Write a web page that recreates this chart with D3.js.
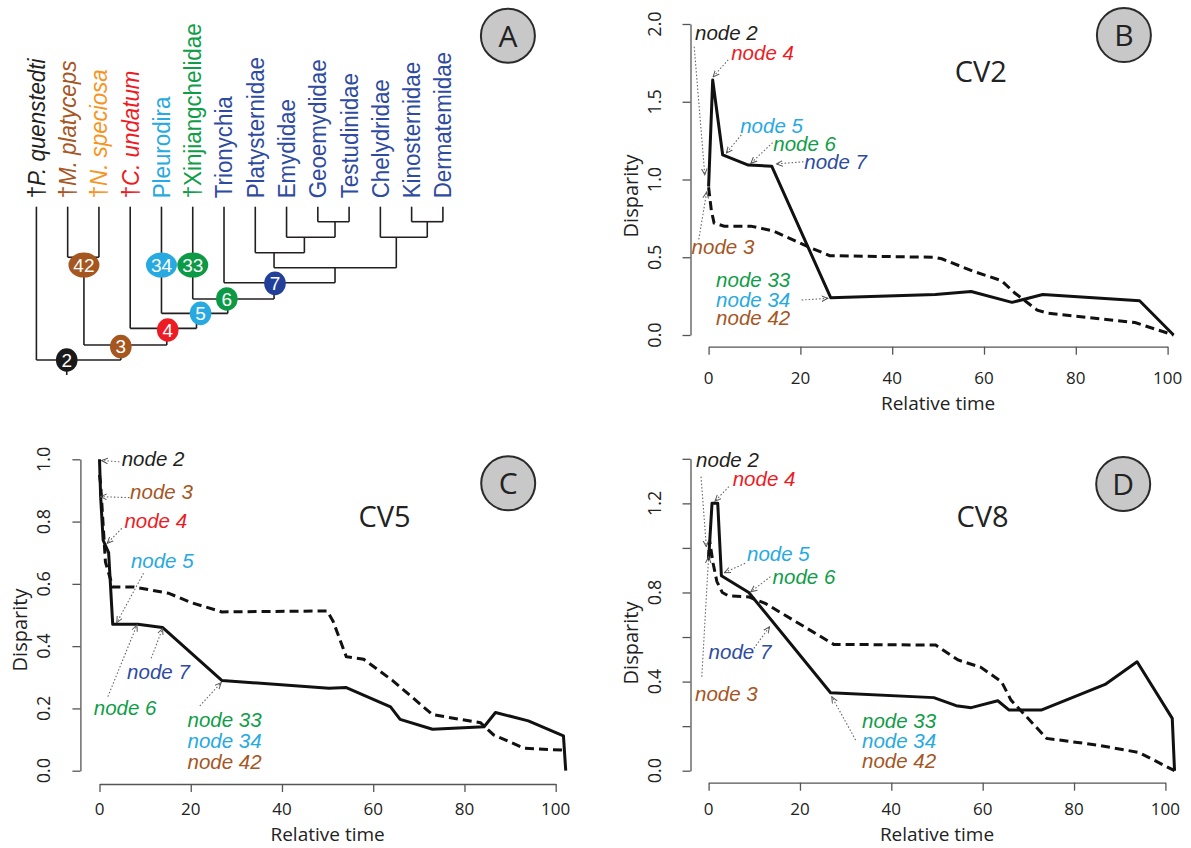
<!DOCTYPE html>
<html><head><meta charset="utf-8">
<script src="https://cdn.jsdelivr.net/npm/d3@7"></script>
<style>body{margin:0;background:#fff} svg{display:block}</style>
</head><body><svg id="c" width="1191" height="848"></svg>
<script>
// ---------- colours ----------
const BLACK="#231f20", BROWN="#a6561f", ORANGE="#f7941d", RED="#ed1c24",
      LBLUE="#27a9e1", GREEN="#0f9d48", DBLUE="#2e4b9f", DBLUE2="#22409a";

// ---------- panel A : tree data ----------
const tipNames  = ["P. quenstedti","M. platyceps","N. speciosa","C. undatum","Pleurodira","Xinjiangchelidae","Trionychia","Platysternidae","Emydidae","Geoemydidae","Testudinidae","Chelydridae","Kinosternidae","Dermatemidae"];
const tipExtinct = [1,1,1,1,0,1,0,0,0,0,0,0,0,0];
const tipItalic  = [1,1,1,1,0,0,0,0,0,0,0,0,0,0];
const tipColors  = [BLACK,BROWN,ORANGE,RED,LBLUE,GREEN,DBLUE,DBLUE,DBLUE,DBLUE,DBLUE,DBLUE,DBLUE,DBLUE];
const tipDepth = 11.22;
// internal nodes: children, position (tip units), depth (levels from root base)
const treeNodes = [
  {id:"n2",   kids:["t0","n3"],      pos:0.97,  depth:1.0},
  {id:"n3",   kids:["n42","n4"],     pos:2.70,  depth:2.0},
  {id:"n42",  kids:["t1","t2"],      pos:1.52,  depth:7.85},
  {id:"n4",   kids:["t3","n5"],      pos:4.17,  depth:3.11},
  {id:"n5",   kids:["t4","n6"],      pos:5.12,  depth:4.11},
  {id:"n6",   kids:["t5","n7"],      pos:6.12,  depth:5.07},
  {id:"n7",   kids:["t6","nBig"],    pos:7.60,  depth:6.15},
  {id:"nBig", kids:["nPla","nChe"],  pos:9.55,  depth:7.15},
  {id:"nPla", kids:["t7","nEmy"],    pos:7.60,  depth:8.15},
  {id:"nEmy", kids:["t8","nGeo"],    pos:8.57,  depth:9.18},
  {id:"nGeo", kids:["t9","t10"],     pos:9.55,  depth:10.22},
  {id:"nChe", kids:["t11","nKin"],   pos:11.51, depth:9.18},
  {id:"nKin", kids:["t12","t13"],    pos:12.5,  depth:10.22}
];
const badgeLabels = ["2","3","4","5","6","7","42","34","33"];
const badgePos    = [0.97,2.70,4.20,5.25,6.09,7.63,1.52,4.0,5.0];
const badgeDepth  = [1.0,1.89,3.0,4.11,5.07,6.11,7.33,7.33,7.33];
const badgeColors = ["#1a1a1a",BROWN,RED,LBLUE,"#0d9a46",DBLUE2,BROWN,LBLUE,"#0d9a46"];

// ---------- panel B : CV2 ----------
const bTime  = [0,0.89,3.07,8.65,13.75,26.6,49.4,57.2,66.1,72.8,93.9,101.3];
const bSolid = [0.954,1.64,1.158,1.093,1.086,0.24,0.26,0.28,0.21,0.26,0.22,0.0];
const bDashTime = [0,0.6,1.2,3.4,9.2,14,21.5,26.4,49.2,50.8,57.6,63.8,66.7,71.6,74,92.9,101.3];
const bDash     = [0.95,0.80,0.72,0.70,0.70,0.67,0.57,0.51,0.50,0.49,0.41,0.35,0.27,0.16,0.14,0.08,0.0];
const bYTicks = [0,0.5,1,1.5,2];
const bNotes = [ // text, colour, label x/y, arrow from x/y, arrow to x/y (data units)
  ["node 2",BLACK,-2.96,1.90,-3.14,1.854,-0.83,1.03],
  ["node 4",RED,4.92,1.77,4.27,1.77,0.98,1.66],
  ["node 5",LBLUE,6.88,1.30,7.12,1.286,3.86,1.17],
  ["node 6",GREEN,14.1,1.185,13.94,1.237,9.19,1.104],
  ["node 7",DBLUE,20.85,1.07,20.68,1.114,14.77,1.10],
  ["node 3",BROWN,-3.7,0.52,-2.14,0.615,-0.41,0.92],
  ["node 33",GREEN,1.63,0.31,null,null,null,null],
  ["node 34",LBLUE,1.63,0.18,20.28,0.225,26.0,0.236],
  ["node 42",BROWN,1.63,0.064,null,null,null,null]
];

// ---------- panel C : CV5 ----------
const cTime  = [0,0.25,0.8,2.0,2.9,8.4,13.8,26.8,50.3,54.1,63.8,65.9,73,84.3,86.8,94,101.7,102.2];
const cSolid = [1.0,0.88,0.74,0.70,0.47,0.47,0.46,0.29,0.265,0.267,0.205,0.165,0.133,0.141,0.187,0.16,0.112,0.0];
const cDashTime = [0,0.25,1.3,2.9,7.6,15.1,20.1,26.8,49.9,51.2,54.1,57.9,64.2,73,83.5,86.4,93.1,101.5];
const cDash     = [0.95,0.92,0.67,0.59,0.59,0.57,0.54,0.51,0.513,0.48,0.366,0.358,0.29,0.18,0.154,0.115,0.072,0.066];
const cYTicks = [0,0.2,0.4,0.6,0.8,1.0];
const cNotes = [
  ["node 2",BLACK,4.87,0.978,4.36,0.992,0.42,0.996],
  ["node 3",BROWN,6.71,0.872,6.55,0.877,0.18,0.88],
  ["node 4",RED,5.46,0.778,4.87,0.778,1.69,0.73],
  ["node 5",LBLUE,6.88,0.65,9.65,0.634,3.77,0.475],
  ["node 7",DBLUE,6.05,0.293,11.33,0.361,13.83,0.457],
  ["node 6",GREEN,-1.25,0.179,1.84,0.238,8.22,0.468],
  ["node 33",GREEN,19.29,0.141,21.99,0.208,26.68,0.283],
  ["node 34",LBLUE,19.29,0.074,null,null,null,null],
  ["node 42",BROWN,19.29,0.0045,null,null,null,null]
];

// ---------- panel D : CV8 ----------
const dTime  = [0,0.75,2.0,2.8,8.8,26.7,49.3,54.2,57.5,63.3,65.8,72.8,86.8,93.8,101.5,102];
const dSolid = [0.946,1.20,1.20,0.875,0.80,0.35,0.328,0.292,0.283,0.314,0.272,0.272,0.387,0.489,0.235,0.0];
const dDashTime = [0,0.2,1.0,1.8,3.0,4.3,8.8,12.5,27.4,49.7,54.6,59.6,64.1,66.2,74,85.1,94.2,102];
const dDash     = [0.95,1.035,0.93,0.85,0.80,0.785,0.78,0.75,0.567,0.564,0.497,0.464,0.40,0.317,0.145,0.115,0.082,0.0];
const dYTicks = [0,0.2,0.4,0.6,0.8,1.0,1.2,1.4];
const dNotes = [
  ["node 2",BLACK,-2.74,1.362,-1.66,1.32,-0.5,1.005],
  ["node 4",RED,5.28,1.278,4.44,1.275,1.4,1.21],
  ["node 5",LBLUE,8.41,0.943,7.99,0.931,3.46,0.889],
  ["node 6",GREEN,14.01,0.837,13.53,0.871,9.24,0.803],
  ["node 7",DBLUE,0,0.50,9.9,0.549,13.35,0.646],
  ["node 3",BROWN,-2.98,0.314,-1.49,0.422,0,0.96],
  ["node 33",GREEN,33.58,0.19,32.18,0.138,26.97,0.332],
  ["node 34",LBLUE,33.58,0.10,null,null,null,null],
  ["node 42",BROWN,33.58,0.011,null,null,null,null]
];
const xTicks = [0,20,40,60,80,100];

// =====================================================
const svg = d3.select("#c");
const defs = svg.append("defs");
defs.append("marker").attr("id","ah").attr("viewBox","0 0 10 10")
  .attr("refX",9).attr("refY",5).attr("markerWidth",7).attr("markerHeight",7)
  .attr("markerUnits","userSpaceOnUse").attr("orient","auto")
  .append("path").attr("d","M0,1 L9,5 L0,9").attr("fill","none")
  .attr("stroke","#555").attr("stroke-width",1.4);

function panelBadge(cx, cy, r, letter){
  svg.append("circle").attr("cx",cx).attr("cy",cy).attr("r",r)
    .attr("fill","#c8c8c8").attr("stroke","#2b2b2b").attr("stroke-width",2);
  svg.append("text").attr("x",cx).attr("y",cy).attr("dy","0.36em")
    .attr("text-anchor","middle").attr("font-family","Open Sans")
    .attr("font-size",30).attr("fill","#222").text(letter);
}

// ---------- Panel A ----------
(function(){
  const xT = d3.scaleLinear().domain([0,13]).range([36.4,442.9]);
  const yT = d3.scaleLinear().domain([0,tipDepth]).range([375,206.7]);
  const byId = {};
  treeNodes.forEach(n=>byId[n.id]=n);
  const loc = ref => ref[0]==="t" ? {pos:+ref.slice(1), depth:tipDepth} : byId[ref];
  const g = svg.append("g").attr("stroke","#231f20").attr("stroke-width",1.6).attr("fill","none");
  treeNodes.forEach(n=>{
    const ks = n.kids.map(loc);
    g.append("line").attr("x1",xT(d3.min(ks,k=>k.pos))).attr("x2",xT(d3.max(ks,k=>k.pos)))
      .attr("y1",yT(n.depth)).attr("y2",yT(n.depth));
    ks.forEach(k=>{
      g.append("line").attr("x1",xT(k.pos)).attr("x2",xT(k.pos))
        .attr("y1",yT(n.depth)).attr("y2",yT(k.depth));
    });
  });
  const root = treeNodes[0];
  g.append("line").attr("x1",xT(root.pos)).attr("x2",xT(root.pos)).attr("y1",yT(root.depth)).attr("y2",yT(0));

  // tip labels
  tipNames.forEach((nm,i)=>{
    const t = svg.append("text")
      .attr("transform",`translate(${xT(i)},${yT(11.78)}) rotate(-90) scale(0.93,1)`)
      .attr("dy","0.35em").attr("font-family","Liberation Sans").attr("font-size",24)
      .attr("fill",tipColors[i]);
    if(tipExtinct[i]) t.append("tspan").text("\u2020");
    t.append("tspan").attr("font-style",tipItalic[i]?"italic":"normal").text(nm);
  });

  // node badges
  badgeLabels.forEach((lb,i)=>{
    const cx = xT(badgePos[i]), cy = yT(badgeDepth[i]);
    const two = lb.length>1;
    svg.append("ellipse").attr("cx",cx).attr("cy",cy)
      .attr("rx",two?15.5:10.8).attr("ry",two?12.5:11.8).attr("fill",badgeColors[i]);
    svg.append("text").attr("x",cx).attr("y",cy).attr("dy","0.36em")
      .attr("text-anchor","middle").attr("font-family","Liberation Sans")
      .attr("font-size",19).attr("fill","#fff").text(lb);
  });
  panelBadge(507.9,35.7,27,"A");
})();

// ---------- Panels B, C, D ----------
const panels = [
  {letter:"B", title:"CV2", xr:[708.6,1167.6], yd:[0,2],   yr:[335,24],     yTicks:bYTicks, labelEvery:1,
   yAxisX:690.5, xAxisY:346.7, tickLabY:378, xlabY:403, t1:bTime, v1:bSolid, t2:bDashTime, v2:bDash, notes:bNotes,
   titleXY:[980.7,71.7], badge:[1123.9,35], ylabY:196, fmt:".1f"},
  {letter:"C", title:"CV5", xr:[99.5,555.7],   yd:[0,1],   yr:[770.7,459.3], yTicks:cYTicks, labelEvery:1,
   yAxisX:80.4, xAxisY:784, tickLabY:809.5, xlabY:834, t1:cTime, v1:cSolid, t2:cDashTime, v2:cDash, notes:cNotes,
   titleXY:[384.6,516.7], badge:[508.2,483.3], ylabY:630, fmt:".1f"},
  {letter:"D", title:"CV8", xr:[708.6,1165.4], yd:[0,1.4], yr:[770.7,458.8], yTicks:dYTicks, labelEvery:2,
   yAxisX:690.5, xAxisY:782.7, tickLabY:809, xlabY:834, t1:dTime, v1:dSolid, t2:dDashTime, v2:dDash, notes:dNotes,
   titleXY:[982.6,516.7], badge:[1123.2,484], ylabY:643, fmt:".1f"}
];

panels.forEach(p=>{
  const x = d3.scaleLinear().domain([0,100]).range(p.xr);
  const y = d3.scaleLinear().domain(p.yd).range(p.yr);
  const g = svg.append("g");
  // y axis
  const ya = g.append("g").attr("transform",`translate(${p.yAxisX},0)`)
    .call(d3.axisLeft(y).tickValues(p.yTicks).tickSize(8).tickSizeOuter(0).tickFormat(()=>""));
  ya.selectAll("path,line").attr("stroke","#555").attr("stroke-width",1.3);
  p.yTicks.forEach((v,i)=>{
    if(i % p.labelEvery) return;
    g.append("text").attr("transform",`translate(${p.yAxisX-30},${y(v)}) rotate(-90)`)
      .attr("text-anchor","middle").attr("font-family","Open Sans").attr("font-size",18)
      .attr("fill","#222").text(d3.format(p.fmt)(v));
  });
  // x axis
  const xa = g.append("g").attr("transform",`translate(0,${p.xAxisY})`)
    .call(d3.axisBottom(x).tickValues(xTicks).tickSize(8).tickSizeOuter(0).tickFormat(()=>""));
  xa.selectAll("path,line").attr("stroke","#555").attr("stroke-width",1.3);
  xTicks.forEach(v=>{
    g.append("text").attr("x",x(v)).attr("y",p.tickLabY).attr("dy","0.35em")
      .attr("text-anchor","middle").attr("font-family","Open Sans").attr("font-size",17)
      .attr("fill","#222").text(v);
  });
  g.append("text").attr("x",(p.xr[0]+p.xr[1])/2).attr("y",p.xlabY).attr("dy","0.35em")
    .attr("text-anchor","middle").attr("font-family","Open Sans").attr("font-size",19)
    .attr("fill","#222").text("Relative time");
  g.append("text").attr("transform",`translate(${p.yAxisX-60},${p.ylabY}) rotate(-90)`)
    .attr("text-anchor","middle").attr("dy","0.35em").attr("font-family","Open Sans").attr("font-size",20)
    .attr("fill","#222").text("Disparity");
  // lines
  const line = d3.line().x(d=>x(d[0])).y(d=>y(d[1]));
  g.append("path").datum(d3.zip(p.t2,p.v2)).attr("d",line).attr("fill","none")
    .attr("stroke","#111").attr("stroke-width",3).attr("stroke-dasharray","9,5");
  g.append("path").datum(d3.zip(p.t1,p.v1)).attr("d",line).attr("fill","none")
    .attr("stroke","#111").attr("stroke-width",3).attr("stroke-linejoin","round");
  // annotations
  p.notes.forEach(n=>{
    const [txt,col,lx,ly,fx,fy,tx,ty] = n;
    if(fx!==null){
      g.append("line").attr("x1",x(fx)).attr("y1",y(fy)).attr("x2",x(tx)).attr("y2",y(ty))
        .attr("stroke","#666").attr("stroke-width",1.1).attr("stroke-dasharray","1.5,2")
        .attr("marker-end","url(#ah)");
    }
    g.append("text").attr("x",x(lx)).attr("y",y(ly)).attr("font-family","Liberation Sans")
      .attr("font-style","italic").attr("font-size",20.5).attr("fill",col).text(txt);
  });
  // title
  g.append("text").attr("x",p.titleXY[0]).attr("y",p.titleXY[1]).attr("dy","0.36em")
    .attr("text-anchor","middle").attr("font-family","Open Sans").attr("font-size",29)
    .attr("fill","#222").text(p.title);
  panelBadge(p.badge[0],p.badge[1],27,p.letter);
});
</script></body></html>
